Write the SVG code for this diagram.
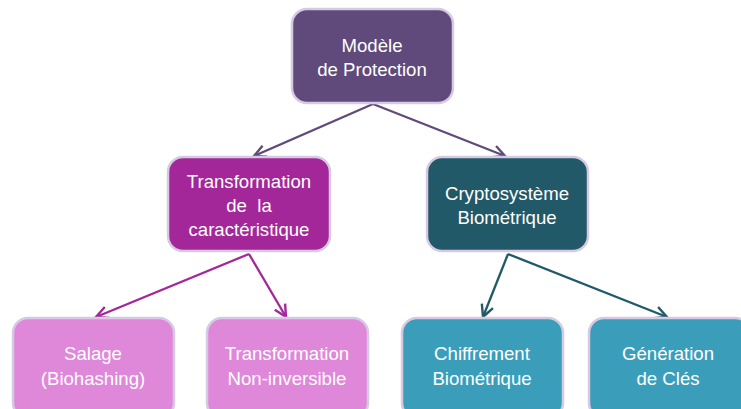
<svg xmlns="http://www.w3.org/2000/svg" width="741" height="409" viewBox="0 0 741 409">
<defs>
<style>
.box{stroke:#D5C9E3;stroke-width:2.5}
.t{font-family:"Liberation Sans",Arial,sans-serif;font-size:18.6px;fill:#FFFFFF;text-anchor:middle}
.c1{fill:none;stroke:#604A7B;stroke-width:2.3}
.c2{fill:none;stroke:#A4279A;stroke-width:2.3}
.c3{fill:none;stroke:#215968;stroke-width:2.3}
</style>
<marker id="m1" viewBox="0 0 10 10" refX="9" refY="5" markerWidth="6.5" markerHeight="6.5" orient="auto" markerUnits="strokeWidth"><path d="M1,1 L9,5 L1,9" fill="none" stroke="#604A7B" stroke-width="1.6"/></marker>
<marker id="m2" viewBox="0 0 10 10" refX="9" refY="5" markerWidth="6.5" markerHeight="6.5" orient="auto" markerUnits="strokeWidth"><path d="M1,1 L9,5 L1,9" fill="none" stroke="#A4279A" stroke-width="1.6"/></marker>
<marker id="m3" viewBox="0 0 10 10" refX="9" refY="5" markerWidth="6.5" markerHeight="6.5" orient="auto" markerUnits="strokeWidth"><path d="M1,1 L9,5 L1,9" fill="none" stroke="#215968" stroke-width="1.6"/></marker>
</defs>
<g id="connectors">
<line class="c1" x1="373" y1="104" x2="254" y2="156" marker-end="url(#m1)"/>
<line class="c1" x1="373" y1="104" x2="505" y2="156" marker-end="url(#m1)"/>
<line class="c2" x1="249" y1="254" x2="96" y2="317" marker-end="url(#m2)"/>
<line class="c2" x1="249" y1="254" x2="286" y2="317" marker-end="url(#m2)"/>
<line class="c3" x1="508" y1="254" x2="483" y2="317" marker-end="url(#m3)"/>
<line class="c3" x1="508" y1="254" x2="667" y2="317" marker-end="url(#m3)"/>
</g>
<g id="n-modele">
<rect class="box" x="292" y="9" width="161" height="94" rx="15" fill="#604A7B"/>
<text class="t" x="372" y="52">Modèle</text>
<text class="t" x="372" y="76">de Protection</text>
</g>
<g id="n-transformation">
<rect class="box" x="168" y="157" width="162" height="94" rx="15" fill="#A4279A"/>
<text class="t" x="249" y="188">Transformation</text>
<text class="t" x="249" y="212" xml:space="preserve">de  la</text>
<text class="t" x="249" y="236">caractéristique</text>
</g>
<g id="n-crypto">
<rect class="box" x="427" y="157" width="161" height="94" rx="15" fill="#215968"/>
<text class="t" x="507" y="200">Cryptosystème</text>
<text class="t" x="507" y="224">Biométrique</text>
</g>
<g id="n-salage">
<rect class="box" x="13" y="318" width="161" height="100" rx="15" fill="#DF88D9"/>
<text class="t" x="93" y="360">Salage</text>
<text class="t" x="93" y="385">(Biohashing)</text>
</g>
<g id="n-noninv">
<rect class="box" x="207" y="318" width="161" height="100" rx="15" fill="#DF88D9"/>
<text class="t" x="287" y="360">Transformation</text>
<text class="t" x="287" y="385">Non-inversible</text>
</g>
<g id="n-chiffrement">
<rect class="box" x="402" y="318" width="161" height="100" rx="15" fill="#3A9EBB"/>
<text class="t" x="482" y="360">Chiffrement</text>
<text class="t" x="482" y="385">Biométrique</text>
</g>
<g id="n-generation">
<rect class="box" x="589" y="318" width="161" height="100" rx="15" fill="#3A9EBB"/>
<text class="t" x="668" y="360">Génération</text>
<text class="t" x="668" y="385">de Clés</text>
</g>
</svg>
